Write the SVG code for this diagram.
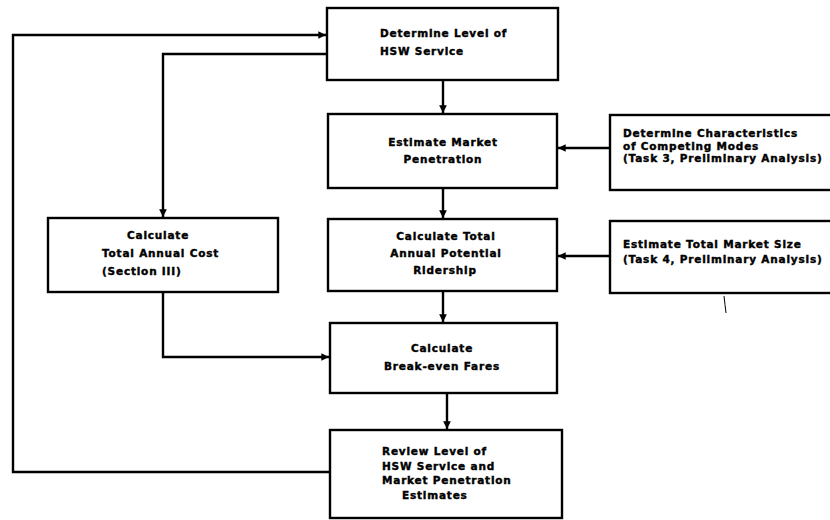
<svg xmlns="http://www.w3.org/2000/svg" width="830" height="520" viewBox="0 0 830 520">
<defs>
<style>
.box{fill:#fff;stroke:#000;stroke-width:2.4}
.t{font-family:"DejaVu Sans","Liberation Sans",sans-serif;font-weight:bold;font-size:10.5px;letter-spacing:0.8px;fill:#000;stroke:#000;stroke-width:0.4}
.m{text-anchor:middle}
.c{fill:none;stroke:#000;stroke-width:2.4}
</style>
<marker id="ah" viewBox="0 0 10 10" refX="10" refY="5" markerWidth="3.2" markerHeight="3.2" orient="auto" markerUnits="strokeWidth">
<path d="M0,0 L10,5 L0,10 z" fill="#000"/>
</marker>
</defs>
<rect width="830" height="520" fill="#fff"/>
<g id="connectors">
<path class="c" d="M330,472 H13 V35 H326" marker-end="url(#ah)"/>
<path class="c" d="M327,54 H163 V217" marker-end="url(#ah)"/>
<path class="c" d="M443,80 V113" marker-end="url(#ah)"/>
<path class="c" d="M443,188 V218" marker-end="url(#ah)"/>
<path class="c" d="M443,291 V322" marker-end="url(#ah)"/>
<path class="c" d="M447,393 V429" marker-end="url(#ah)"/>
<path class="c" d="M163,292 V357 H329" marker-end="url(#ah)"/>
<path class="c" d="M610,148 H558" marker-end="url(#ah)"/>
<path class="c" d="M610,256 H558" marker-end="url(#ah)"/>
<path d="M724,296 Q725,305 726,313" fill="none" stroke="#000" stroke-width="1"/>
</g>
<g id="determine-level">
<rect class="box" x="327" y="8" width="231" height="72"/>
<text class="t" x="380" y="37">Determine Level of</text>
<text class="t" x="380" y="55">HSW Service</text>
</g>
<g id="market-penetration">
<rect class="box" x="328" y="114" width="229" height="74"/>
<text class="t m" x="443" y="146">Estimate Market</text>
<text class="t m" x="443" y="163">Penetration</text>
</g>
<g id="competing-modes">
<rect class="box" x="610" y="115" width="225" height="75"/>
<text class="t" x="623" y="137">Determine Characteristics</text>
<text class="t" x="623" y="149.5">of Competing Modes</text>
<text class="t" x="623" y="162">(Task 3, Preliminary Analysis)</text>
</g>
<g id="annual-cost">
<rect class="box" x="48" y="218" width="230" height="74"/>
<text class="t" x="127" y="239">Calculate</text>
<text class="t" x="102" y="257">Total Annual Cost</text>
<text class="t" x="102" y="275">(Section III)</text>
</g>
<g id="ridership">
<rect class="box" x="328" y="219" width="229" height="72"/>
<text class="t m" x="446" y="240">Calculate Total</text>
<text class="t m" x="446" y="257">Annual Potential</text>
<text class="t m" x="445" y="274">Ridership</text>
</g>
<g id="market-size">
<rect class="box" x="610" y="221" width="225" height="72"/>
<text class="t" x="623" y="248">Estimate Total Market Size</text>
<text class="t" x="623" y="263">(Task 4, Preliminary Analysis)</text>
</g>
<g id="break-even">
<rect class="box" x="330" y="323" width="227" height="70"/>
<text class="t m" x="442" y="352">Calculate</text>
<text class="t m" x="442" y="370">Break-even Fares</text>
</g>
<g id="review">
<rect class="box" x="330" y="430" width="232" height="88"/>
<text class="t" x="382" y="455">Review Level of</text>
<text class="t" x="382" y="469.5">HSW Service and</text>
<text class="t" x="382" y="484">Market Penetration</text>
<text class="t" x="402" y="498.5">Estimates</text>
</g>
</svg>
